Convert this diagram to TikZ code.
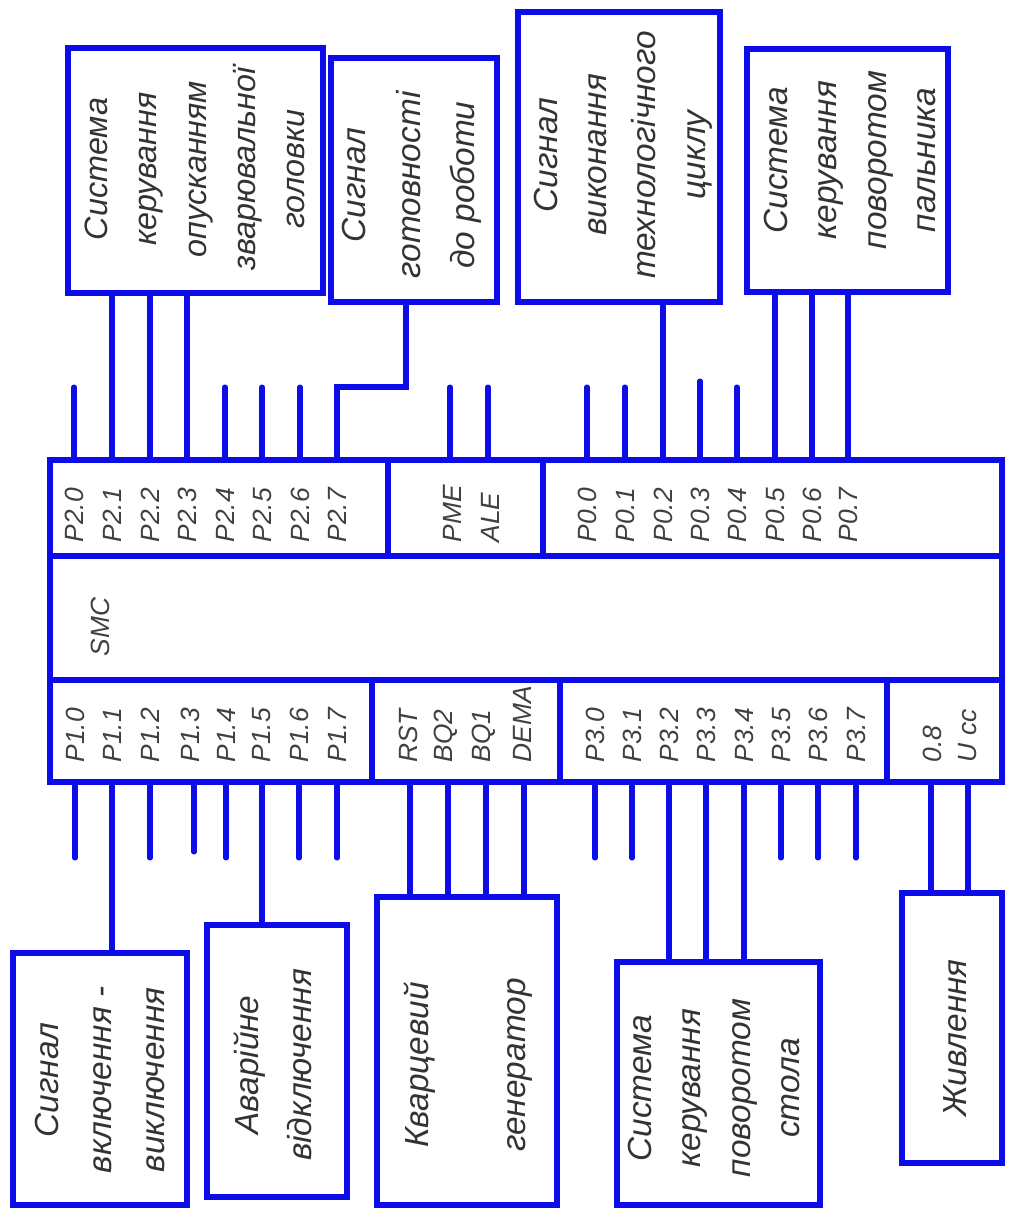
\documentclass[tikz,border=0pt]{standalone}
\usepackage{fontspec}
\setmainfont{Liberation Sans}
\definecolor{schblue}{RGB}{12,12,235}

\begin{document}
\begin{tikzpicture}[x=0.1mm, y=-0.1mm,
        wire/.style={draw=schblue, line width=0.55mm, line cap=round},
        block/.style={draw=schblue, line width=0.55mm, rectangle, inner sep=0pt},
        caption/.style={rotate=90, align=center, text=black!80, inner sep=0pt,
            font=\fontsize{9.5}{14}\selectfont\itshape},
        pinname/.style={rotate=90, anchor=west, text=black!75, inner sep=0pt,
            font=\fontsize{7.5}{9}\selectfont\itshape}]
    \useasboundingbox (0,0) rectangle (1008,1212);

    % microcontroller
    \node[block, minimum width=95.2mm, minimum height=32.2mm] (mcu) at (526,621) {};
    \draw[block] (50,556) -- (1002,556);
    \draw[block] (50,680) -- (1002,680);
    \draw[block] (388,460) -- (388,556);
    \draw[block] (543,460) -- (543,556);
    \draw[block] (372,680) -- (372,782);
    \draw[block] (560,680) -- (560,782);
    \draw[block] (887,680) -- (887,782);
    \node[rotate=90, text=black!75, font=\fontsize{7.5}{9}\selectfont\itshape] (smc) at (100,627) {SMC};

    % top blocks
    \node[block, minimum width=25.5mm, minimum height=24.5mm] (head) at (195.5,170.5) {};
    \node[caption, font=\fontsize{9.2}{14}\selectfont\itshape] (headtxt) at (195,169) {Система\\керування\\опусканням\\зварювальної\\головки};
    \node[block, minimum width=16.6mm, minimum height=24.4mm] (ready) at (414,180) {};
    \node[caption, font=\fontsize{9.5}{15.5}\selectfont\itshape] (readytxt) at (412,185) {Сигнал\\готовності\\до роботи};
    \node[block, minimum width=20.2mm, minimum height=29mm] (cyclesig) at (619,157) {};
    \node[caption] (cycletxt) at (623,155) {Сигнал\\виконання\\технологічного\\циклу};
    \node[block, minimum width=20.1mm, minimum height=24.3mm] (torch) at (847.5,170.5) {};
    \node[caption] (torchtxt) at (850,160) {Система\\керування\\поворотом\\пальника};

    % bottom blocks
    \node[block, minimum width=17.4mm, minimum height=25.2mm] (onoff) at (100,1079) {};
    \node[caption, font=\fontsize{9.5}{15}\selectfont\itshape] (onofftxt) at (100,1080) {Сигнал\\включення -\\виключення};
    \node[block, minimum width=14mm, minimum height=27.2mm] (alarm) at (277,1061) {};
    \node[caption, font=\fontsize{9.5}{15}\selectfont\itshape] (alarmtxt) at (273,1065) {Аварійне\\відключення};
    \node[block, minimum width=18mm, minimum height=30.8mm] (quartz) at (467,1051) {};
    \node[caption] (quartztxt) at (468,1065) {Кварцевий\\[13.6pt]генератор};
    \node[block, minimum width=20.3mm, minimum height=24.3mm] (tablectl) at (718.5,1083.5) {};
    \node[caption] (tabletxt) at (714,1088) {Система\\керування\\поворотом\\стола};
    \node[block, minimum width=10mm, minimum height=27mm] (power) at (952,1028) {};
    \node[caption] (powertxt) at (955,1038) {Живлення};

    % port names, top row
    \node[pinname] (n20) at (74,543) {P2.0};
    \node[pinname] (n21) at (112,543) {P2.1};
    \node[pinname] (n22) at (150,543) {P2.2};
    \node[pinname] (n23) at (187,543) {P2.3};
    \node[pinname] (n24) at (225,543) {P2.4};
    \node[pinname] (n25) at (262,543) {P2.5};
    \node[pinname] (n26) at (300,543) {P2.6};
    \node[pinname] (n27) at (337,543) {P2.7};
    \node[pinname] (npme) at (452,543) {PME};
    \node[pinname] (nale) at (490,543) {ALE};
    \node[pinname] (n00) at (587,543) {P0.0};
    \node[pinname] (n01) at (625,543) {P0.1};
    \node[pinname] (n02) at (663,543) {P0.2};
    \node[pinname] (n03) at (700,543) {P0.3};
    \node[pinname] (n04) at (737,543) {P0.4};
    \node[pinname] (n05) at (775,543) {P0.5};
    \node[pinname] (n06) at (812,543) {P0.6};
    \node[pinname] (n07) at (848,543) {P0.7};

    % port names, bottom row
    \node[pinname] (n10) at (75,763) {P1.0};
    \node[pinname] (n11) at (112,763) {P1.1};
    \node[pinname] (n12) at (150,763) {P1.2};
    \node[pinname] (n13) at (190,763) {P1.3};
    \node[pinname] (n14) at (226,763) {P1.4};
    \node[pinname] (n15) at (262,763) {P1.5};
    \node[pinname] (n16) at (299,763) {P1.6};
    \node[pinname] (n17) at (337,763) {P1.7};
    \node[pinname] (nrst) at (408,763) {RST};
    \node[pinname] (nbq2) at (446,763) {BQ2};
    \node[pinname] (nbq1) at (484,763) {BQ1};
    \node[pinname] (ndema) at (522,763) {DEMA};
    \node[pinname] (n30) at (595,763) {P3.0};
    \node[pinname] (n31) at (632,763) {P3.1};
    \node[pinname] (n32) at (669,763) {P3.2};
    \node[pinname] (n33) at (706,763) {P3.3};
    \node[pinname] (n34) at (744,763) {P3.4};
    \node[pinname] (n35) at (781,763) {P3.5};
    \node[pinname] (n36) at (818,763) {P3.6};
    \node[pinname] (n37) at (856,763) {P3.7};
    \node[pinname] (ngnd) at (932,763) {0.8};
    \node[pinname] (nucc) at (968,763) {U cc};

    % top pins
    \draw[wire] (74,0 |- mcu.north) -- ++(0,-70);
    \draw[wire] (112,0 |- mcu.north) -- (112,0 |- head.south);
    \draw[wire] (150,0 |- mcu.north) -- (150,0 |- head.south);
    \draw[wire] (187,0 |- mcu.north) -- (187,0 |- head.south);
    \draw[wire] (225,0 |- mcu.north) -- ++(0,-70);
    \draw[wire] (262,0 |- mcu.north) -- ++(0,-70);
    \draw[wire] (300,0 |- mcu.north) -- ++(0,-70);
    \draw[wire] (337,0 |- mcu.north) -- ++(0,-70) -| ([xshift=-0.8mm]ready.south);
    \draw[wire] (450,0 |- mcu.north) -- ++(0,-70);
    \draw[wire] (488,0 |- mcu.north) -- ++(0,-70);
    \draw[wire] (587,0 |- mcu.north) -- ++(0,-70);
    \draw[wire] (625,0 |- mcu.north) -- ++(0,-70);
    \draw[wire] (663,0 |- mcu.north) -- (663,0 |- cyclesig.south);
    \draw[wire] (700,0 |- mcu.north) -- ++(0,-76);
    \draw[wire] (737,0 |- mcu.north) -- ++(0,-70);
    \draw[wire] (775,0 |- mcu.north) -- (775,0 |- torch.south);
    \draw[wire] (812,0 |- mcu.north) -- (812,0 |- torch.south);
    \draw[wire] (848,0 |- mcu.north) -- (848,0 |- torch.south);

    % bottom pins
    \draw[wire] (75,0 |- mcu.south) -- ++(0,73);
    \draw[wire] (112,0 |- mcu.south) -- (112,0 |- onoff.north);
    \draw[wire] (150,0 |- mcu.south) -- ++(0,73);
    \draw[wire] (194,0 |- mcu.south) -- ++(0,67);
    \draw[wire] (226,0 |- mcu.south) -- ++(0,73);
    \draw[wire] (262,0 |- mcu.south) -- (262,0 |- alarm.north);
    \draw[wire] (299,0 |- mcu.south) -- ++(0,73);
    \draw[wire] (337,0 |- mcu.south) -- ++(0,73);
    \draw[wire] (410,0 |- mcu.south) -- (410,0 |- quartz.north);
    \draw[wire] (448,0 |- mcu.south) -- (448,0 |- quartz.north);
    \draw[wire] (486,0 |- mcu.south) -- (486,0 |- quartz.north);
    \draw[wire] (524,0 |- mcu.south) -- (524,0 |- quartz.north);
    \draw[wire] (595,0 |- mcu.south) -- ++(0,73);
    \draw[wire] (632,0 |- mcu.south) -- ++(0,73);
    \draw[wire] (669,0 |- mcu.south) -- (669,0 |- tablectl.north);
    \draw[wire] (706,0 |- mcu.south) -- (706,0 |- tablectl.north);
    \draw[wire] (744,0 |- mcu.south) -- (744,0 |- tablectl.north);
    \draw[wire] (781,0 |- mcu.south) -- ++(0,73);
    \draw[wire] (818,0 |- mcu.south) -- ++(0,73);
    \draw[wire] (856,0 |- mcu.south) -- ++(0,73);
    \draw[wire] (931,0 |- mcu.south) -- (931,0 |- power.north);
    \draw[wire] (968,0 |- mcu.south) -- (968,0 |- power.north);
\end{tikzpicture}
\end{document}
